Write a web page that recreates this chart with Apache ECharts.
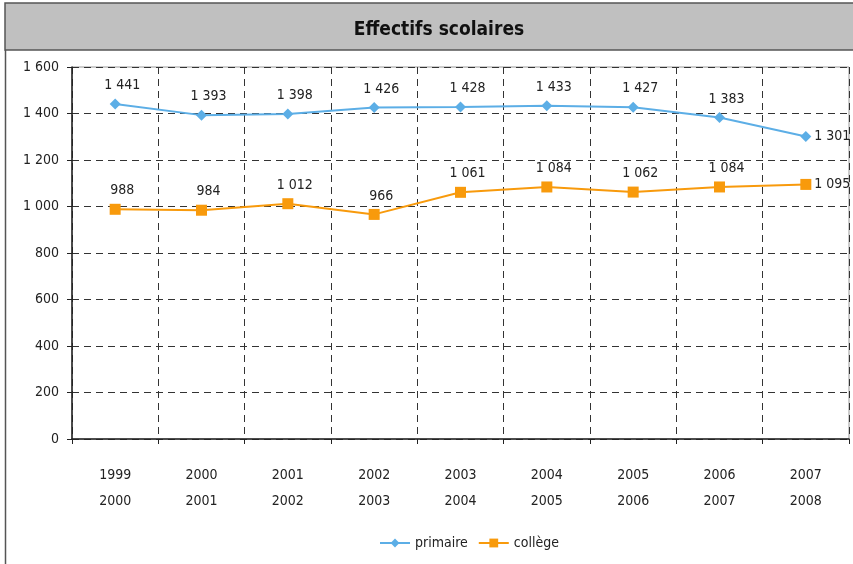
<!DOCTYPE html>
<html>
<head>
<meta charset="utf-8">
<script src="https://cdn.jsdelivr.net/npm/echarts@6/dist/echarts.min.js"></script>
<style>
  html, body { margin: 0; padding: 0; background: #fff; }
  #chart { width: 853px; height: 564px; }
</style>
</head>
<body>
<div id="chart"></div>
<script>
// data
const years = ['1999\n2000', '2000\n2001', '2001\n2002', '2002\n2003', '2003\n2004',
               '2004\n2005', '2005\n2006', '2006\n2007', '2007\n2008'];
const primaire = [1441, 1393, 1398, 1426, 1428, 1433, 1427, 1383, 1301];
const college = [988, 984, 1012, 966, 1061, 1084, 1062, 1084, 1095];

const FONT = '"DejaVu Sans Condensed", sans-serif';

// "1 441" style thousands
const fmt = v => String(v).replace(/\B(?=(\d{3})+(?!\d))/g, ' ');

// last point label goes to the right
const withLabels = arr => arr.map((v, i) => i === arr.length - 1
  ? { value: v, label: { position: 'right', distance: 3, offset: [0, 0] } }
  : v);

const chart = echarts.init(document.getElementById('chart'));

chart.setOption({
  animation: false,
  textStyle: { fontFamily: FONT },
  graphic: [
    {
      type: 'rect',
      shape: { x: 5, y: 3, width: 860, height: 47 },
      style: { fill: '#c0c0c0', stroke: '#555', lineWidth: 1.5 }
    },
    {
      type: 'line',
      shape: { x1: 5.5, y1: 50, x2: 5.5, y2: 564 },
      style: { stroke: '#555', lineWidth: 1.5 }
    }
  ],
  title: {
    text: 'Effectifs scolaires',
    left: 434,
    textAlign: 'center',
    top: 16,
    textStyle: { fontFamily: FONT, fontSize: 19, fontWeight: 'bold', color: '#111' }
  },
  legend: {
    bottom: 9,
    left: 374,
    itemWidth: 30,
    itemHeight: 11,
    itemGap: 10,
    textStyle: { fontFamily: FONT, fontSize: 14, color: '#222' },
    data: ['primaire', 'collège']
  },
  grid: {
    left: 72, right: 4, top: 67, bottom: 125,
    show: true, borderColor: '#999', borderWidth: 1
  },
  xAxis: {
    type: 'category',
    data: years,
    boundaryGap: true,
    axisLine: { lineStyle: { color: '#222', width: 1.5 } },
    axisTick: { show: true, length: 5, lineStyle: { color: '#222' } },
    axisLabel: { color: '#222', fontSize: 14, lineHeight: 26, margin: 23 },
    splitLine: { show: true, lineStyle: { color: '#333', type: [7, 5], width: 1 } }
  },
  yAxis: {
    type: 'value',
    min: 0, max: 1600, interval: 200,
    axisLine: { show: true, lineStyle: { color: '#222', width: 1.5 } },
    axisTick: { show: true, length: 5, lineStyle: { color: '#222' } },
    axisLabel: { color: '#222', fontSize: 14, margin: 13, formatter: v => fmt(v) },
    splitLine: { show: true, lineStyle: { color: '#333', type: [7, 5], width: 1 } }
  },
  series: [
    {
      name: 'primaire',
      type: 'line',
      data: withLabels(primaire),
      symbol: 'diamond',
      symbolSize: 11,
      color: '#5caee6',
      lineStyle: { width: 2 },
      label: {
        show: true, position: 'top', distance: 6, offset: [7, 0],
        fontFamily: FONT, fontSize: 14, color: '#222',
        formatter: p => fmt(p.value)
      }
    },
    {
      name: 'collège',
      type: 'line',
      data: withLabels(college),
      symbol: 'rect',
      symbolSize: 11,
      color: '#f89a0c',
      lineStyle: { width: 2 },
      label: {
        show: true, position: 'top', distance: 6, offset: [7, 0],
        fontFamily: FONT, fontSize: 14, color: '#222',
        formatter: p => fmt(p.value)
      }
    }
  ]
});
</script>
</body>
</html>
